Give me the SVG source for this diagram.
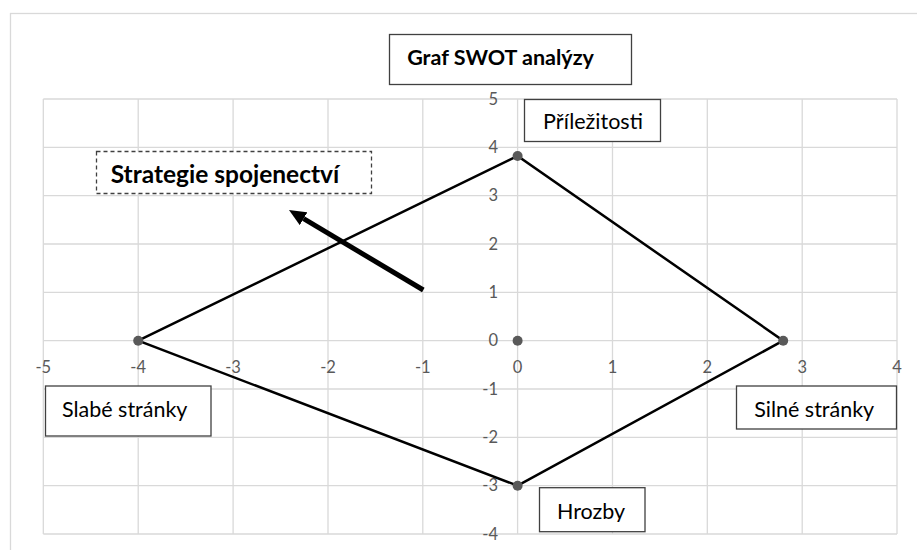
<svg xmlns="http://www.w3.org/2000/svg" width="917" height="550" viewBox="0 0 917 550">
<style>
.grid{stroke:#d9d9d9;stroke-width:1.3;fill:none}
.ax{font-family:Lato,"Open Sans","Liberation Sans",sans-serif;font-size:16.5px;fill:#595959}
.lbl{font-family:Lato,"Open Sans","Liberation Sans",sans-serif;font-size:21.5px;fill:#000}
.bold{font-weight:bold}
.box{fill:#fff;stroke:#404040;stroke-width:1.3}
.dash{fill:#fff;stroke:#404040;stroke-width:1.3;stroke-dasharray:4 3}
.dot{fill:#595959}
</style>
<defs>
<marker id="ah" markerUnits="userSpaceOnUse" markerWidth="17" markerHeight="15" viewBox="0 0 17 15" refX="0" refY="7.5" orient="auto">
<path d="M0,0 L17,7.5 L0,15 z" fill="#000"/>
</marker>
<clipPath id="clipSil"><rect x="737" y="386" width="160" height="35"/></clipPath>
<clipPath id="clipHro"><rect x="540" y="488" width="105" height="34"/></clipPath>
</defs>
<rect x="0" y="0" width="917" height="550" fill="#fff"/>
<rect x="10.5" y="13.5" width="920" height="550" fill="#fff" stroke="#d9d9d9" stroke-width="1.3"/>
<g id="grid" class="grid">
<path d="M43.3,99V534M138.2,99V534M233.1,99V534M328,99V534M422.8,99V534M517.6,99V534M612.5,99V534M707.3,99V534M802.2,99V534M897,99V534"/>
<path d="M43.3,99H897M43.3,147.3H897M43.3,195.7H897M43.3,244H897M43.3,292.3H897M43.3,340.7H897M43.3,389H897M43.3,437.3H897M43.3,485.7H897M43.3,534H897"/>
</g>
<g id="x-axis-labels" class="ax" text-anchor="middle">
<text x="43.3" y="373">-5</text>
<text x="138.2" y="373">-4</text>
<text x="233.1" y="373">-3</text>
<text x="328" y="373">-2</text>
<text x="422.8" y="373">-1</text>
<text x="517.6" y="373">0</text>
<text x="612.5" y="373">1</text>
<text x="707.3" y="373">2</text>
<text x="802.2" y="373">3</text>
<text x="897" y="373">4</text>
</g>
<g id="y-axis-labels" class="ax" text-anchor="end">
<text x="498" y="104.7">5</text>
<text x="498" y="153">4</text>
<text x="498" y="201.4">3</text>
<text x="498" y="249.7">2</text>
<text x="498" y="298">1</text>
<text x="498" y="346.4">0</text>
<text x="498" y="394.7">-1</text>
<text x="498" y="443">-2</text>
<text x="498" y="491.4">-3</text>
<text x="498" y="539.7">-4</text>
</g>
<g id="connectors">
<polygon points="138.2,340.7 517.6,156 783.2,340.7 517.6,485.7" fill="none" stroke="#000" stroke-width="2.5" stroke-linejoin="miter"/>
<line x1="423.3" y1="290" x2="303.6" y2="218.7" stroke="#000" stroke-width="5" marker-end="url(#ah)"/>
</g>
<g id="points">
<circle class="dot" cx="138.2" cy="340.7" r="5"/>
<circle class="dot" cx="517.6" cy="156" r="5"/>
<circle class="dot" cx="783.2" cy="340.7" r="5"/>
<circle class="dot" cx="517.6" cy="485.7" r="5"/>
<circle class="dot" cx="517.6" cy="340.7" r="5"/>
</g>
<g id="title">
<rect class="box" x="389.5" y="34.5" width="242" height="50"/>
<text class="lbl bold" x="500.5" y="65" text-anchor="middle" style="font-size:21.5px">Graf SWOT analýzy</text>
</g>
<g id="prilezitosti">
<rect class="box" x="524.5" y="99.5" width="136" height="42"/>
<text class="lbl" x="593" y="129" text-anchor="middle">Příležitosti</text>
</g>
<g id="strategie">
<rect class="dash" x="96.5" y="151.5" width="275" height="42"/>
<text class="lbl bold" x="225" y="183" text-anchor="middle" style="font-size:24.5px">Strategie spojenectví</text>
</g>
<g id="slabe">
<rect class="box" x="45.5" y="386" width="165.5" height="50"/>
<text class="lbl" x="124.7" y="416.7" text-anchor="middle">Slabé stránky</text>
</g>
<g id="silne">
<rect class="box" x="736.5" y="386" width="160" height="43"/>
<text class="lbl" x="814.2" y="416.7" text-anchor="middle" clip-path="url(#clipSil)">Silné stránky</text>
</g>
<g id="hrozby">
<rect class="box" x="539.5" y="487.7" width="105.5" height="44"/>
<text class="lbl" x="591" y="519" text-anchor="middle" clip-path="url(#clipHro)">Hrozby</text>
</g>
</svg>
